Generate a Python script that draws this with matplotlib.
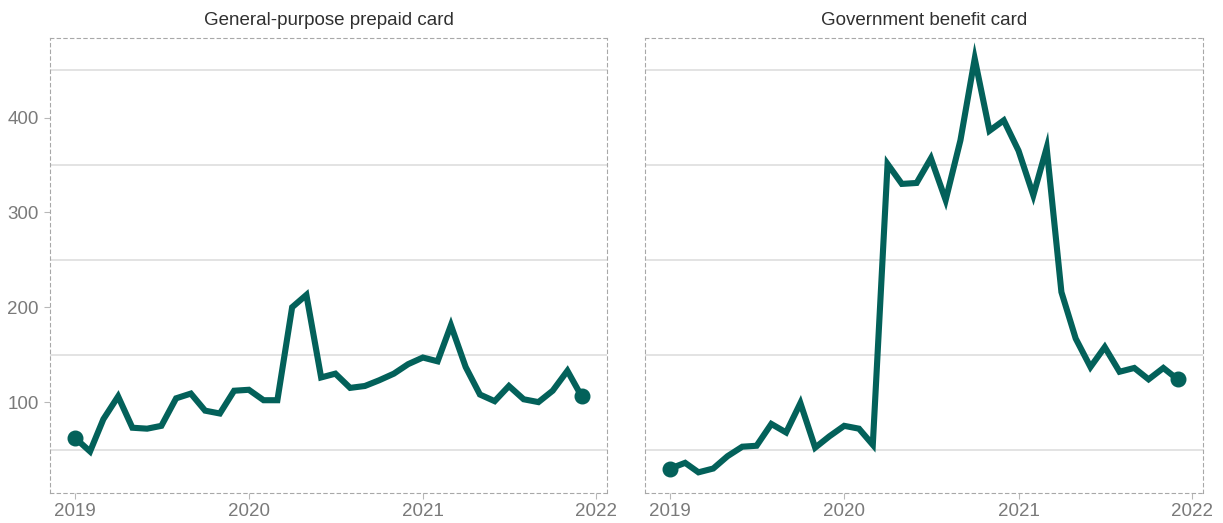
import numpy as np
import pandas as pd
import matplotlib
matplotlib.use("Agg")
import matplotlib.pyplot as plt
import matplotlib.dates as mdates

plt.rcParams['font.family'] = ['Liberation Sans', 'DejaVu Sans']

months = pd.date_range("2019-01-01", "2021-12-01", freq="MS")

titles = ["General-purpose prepaid card", "Government benefit card"]

general_purpose = [62, 48, 82, 106, 73, 72, 75, 104, 109, 91, 88, 112,
                   113, 102, 102, 200, 213, 126, 130, 115, 117, 123, 130, 140,
                   147, 143, 181, 137, 108, 101, 117, 103, 100, 112, 133, 106]

government_benefit = [30, 36, 26, 30, 43, 53, 54, 77, 68, 99, 52, 64,
                      75, 72, 55, 351, 330, 331, 357, 313, 376, 462, 386, 397,
                      365, 318, 368, 216, 167, 137, 158, 132, 136, 124, 136, 124]

series = [general_purpose, government_benefit]
year_ticks = ["2019", "2020", "2021", "2022"]
y_labels = [100, 200, 300, 400]
y_grid = [50, 150, 250, 350, 450]

line_color = "#03615A"
grey_text = "#7a7a7a"

fig = plt.figure(figsize=(12.23, 5.23), dpi=100)
W, H = 1223, 523
boxes = [(50, 607), (645, 1203)]
top, bottom = 38, 493

allvals = np.array(general_purpose + government_benefit)
vmin, vmax = allvals.min(), allvals.max()
pad = 0.05 * (vmax - vmin)
ylim = (vmin - pad, vmax + pad)

xnum = mdates.date2num(months.to_pydatetime())
xspan = xnum[-1] - xnum[0]
xlim = (xnum[0] - 0.05 * xspan, xnum[-1] + 0.05 * xspan)

for i, (vals, title) in enumerate(zip(series, titles)):
    x0, x1 = boxes[i]
    ax = fig.add_axes([x0 / W, 1 - bottom / H, (x1 - x0) / W, (bottom - top) / H])
    ax.set_xlim(xlim)
    ax.set_ylim(ylim)
    for yg in y_grid:
        ax.axhline(yg, color="#dedede", lw=1.2, zorder=1)
    ax.plot(xnum, vals, color=line_color, lw=4.4, solid_joinstyle="miter",
            solid_capstyle="butt", zorder=3)
    ax.plot([xnum[0], xnum[-1]], [vals[0], vals[-1]], "o", color=line_color,
            ms=10.5, zorder=4)
    for s in ax.spines.values():
        s.set_linestyle((0, (3, 3)))
        s.set_color("#a8a8a8")
        s.set_linewidth(0.8)
    tick_pos = mdates.date2num([pd.Timestamp(f"{y}-01-01").to_pydatetime() for y in year_ticks])
    ax.set_xticks(tick_pos)
    ax.set_xticklabels(year_ticks)
    ax.tick_params(axis="x", colors="#b8b8b8", labelcolor=grey_text,
                   labelsize=13.5, length=4, width=0.8, pad=3)
    ax.set_yticks(y_labels)
    if i == 0:
        ax.set_yticklabels([str(v) for v in y_labels])
        ax.tick_params(axis="y", colors="#b8b8b8", labelcolor=grey_text,
                       labelsize=13.5, length=4, width=0.8, pad=4)
    else:
        ax.tick_params(axis="y", left=False, labelleft=False)
    ax.set_title(title, fontsize=13.5, color="#303030", pad=9)

fig.savefig("out.png", dpi=100)
